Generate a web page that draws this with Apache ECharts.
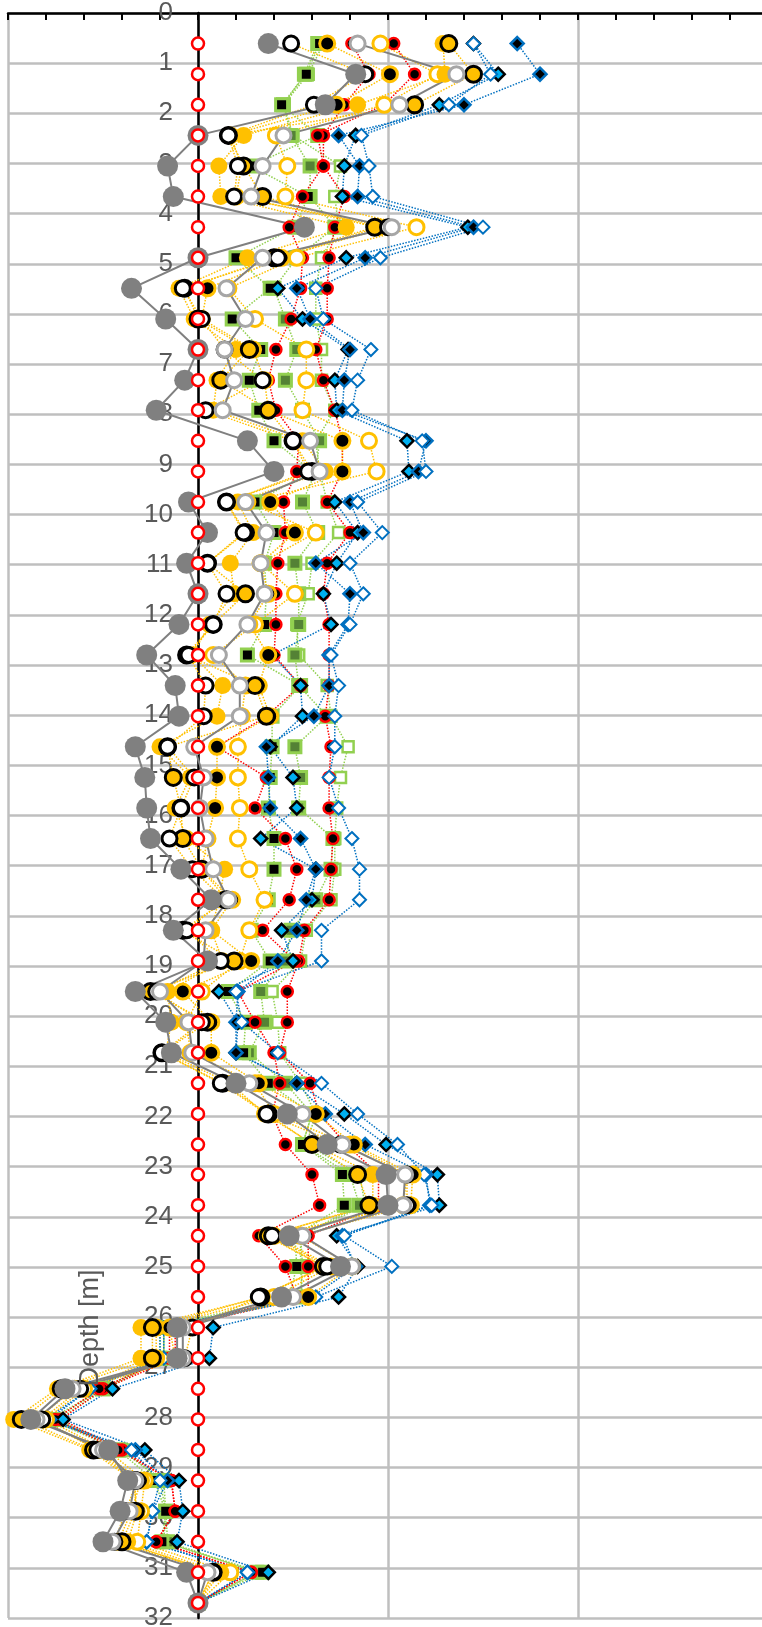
<!DOCTYPE html>
<html><head><meta charset="utf-8">
<script src="https://cdn.jsdelivr.net/npm/echarts@6/dist/echarts.min.js"></script>
<style>html,body{margin:0;padding:0;background:#fff}#c{width:762px;height:1627px}</style>
</head><body><div id="c"></div>
<script>
// Depth of each measurement row [m]
var depths = [0.61,1.22,1.83,2.44,3.05,3.66,4.27,4.88,5.49,6.10,6.71,7.32,7.92,8.53,9.14,9.75,10.36,10.97,11.58,12.19,12.80,13.41,14.02,14.63,15.24,15.85,16.46,17.07,17.68,18.29,18.90,19.51,20.12,20.73,21.34,21.95,22.56,23.16,23.77,24.38,24.99,25.60,26.21,26.82,27.43,28.04,28.65,29.26,29.87,30.48,31.09,31.70];
var yTicks = [0,1,2,3,4,5,6,7,8,9,10,11,12,13,14,15,16,17,18,19,20,21,22,23,24,25,26,27,28,29,30,31,32];

var zeroRef = [0,0,0,0,0,0,0,0,0,0,0,0,0,0,0,0,0,0,0,0,0,0,0,0,0,0,0,0,0,0,0,0,0,0,0,0,0,0,0,0,0,0,0,0,0,0,0,0,0,0,0,0];
var grayFilled = [0.37,0.83,0.67,0,-0.16,-0.13,0.56,0,-0.35,-0.17,0,-0.07,-0.22,0.26,0.40,-0.05,0.05,-0.06,0,-0.10,-0.27,-0.12,-0.10,-0.33,-0.28,-0.27,-0.25,-0.09,0.07,-0.13,0.05,-0.33,-0.17,-0.14,0.20,0.47,0.68,0.99,1.00,0.48,0.75,0.44,-0.11,-0.11,-0.70,-0.88,-0.47,-0.37,-0.41,-0.50,-0.06,0];
var grayHollow = [0.84,1.36,1.06,0.45,0.34,0.28,1.02,0.34,0.15,0.25,0.14,0.19,0.13,0.59,0.64,0.25,0.36,0.33,0.35,0.26,0.11,0.22,0.22,-0.02,0.03,0.01,0.04,0.08,0.16,0.04,0.03,-0.20,-0.05,-0.03,0.27,0.55,0.76,1.09,1.08,0.55,0.81,0.50,-0.08,-0.08,-0.66,-0.85,-0.50,-0.33,-0.36,-0.45,0.05,0];
var blackHollow = [0.49,0.88,0.61,0.16,0.21,0.19,1.00,0.42,-0.08,0.02,0.14,0.34,0.04,0.50,0.58,0.15,0.24,0.05,0.15,0.08,-0.05,0.04,0.03,-0.16,-0.02,-0.09,-0.15,-0.03,0.14,-0.06,0.12,-0.22,0.02,-0.19,0.12,0.36,0.75,1.10,1.10,0.39,0.68,0.32,-0.03,-0.07,-0.62,-0.82,-0.53,-0.32,-0.38,-0.44,0.08,0];
var goldBlack = [1.32,1.45,1.14,0.16,0.24,0.34,0.93,0.40,-0.07,0.00,0.27,0.12,0.37,0.50,0.60,0.15,0.25,0.05,0.25,0.08,-0.06,0.30,0.36,-0.16,-0.13,-0.09,-0.08,0.02,0.15,-0.08,0.19,-0.25,0.05,-0.19,0.13,0.37,0.60,0.84,0.90,0.37,0.66,0.33,-0.24,-0.24,-0.72,-0.93,-0.55,-0.33,-0.33,-0.40,0.08,0];
var yellowFilled = [1.29,1.30,0.84,0.24,0.11,0.12,0.78,0.26,-0.10,-0.02,0.20,0.10,0.08,0.55,0.67,0.21,0.29,0.17,0.19,0.06,-0.03,0.13,0.10,-0.20,-0.04,-0.12,-0.06,0.14,0.11,0.07,0.13,-0.16,-0.14,-0.17,0.17,0.35,0.61,0.92,0.92,0.36,0.66,0.34,-0.30,-0.30,-0.74,-0.97,-0.57,-0.34,-0.32,-0.37,0.12,0];
var yellowHollow = [0.96,1.26,0.98,0.41,0.47,0.46,1.15,0.52,0.16,0.30,0.57,0.57,0.55,0.90,0.94,0.26,0.62,0.33,0.51,0.30,0.08,0.25,0.23,0.21,0.21,0.22,0.21,0.27,0.35,0.27,0.22,0.02,-0.06,-0.04,0.30,0.40,0.80,1.10,1.08,0.40,0.70,0.40,-0.22,-0.22,-0.60,-0.80,-0.48,-0.28,-0.30,-0.32,0.17,0];
var blackYellow = [0.68,1.01,0.73,0.17,0.23,0.20,0.95,0.44,0.05,0.02,0.29,0.35,0.37,0.76,0.76,0.38,0.51,0.33,0.37,0.27,0.37,0.32,0.38,0.10,0.10,0.09,0.05,0.02,0.18,0.07,0.28,-0.08,0.07,0.07,0.32,0.62,0.82,1.13,1.12,0.54,0.81,0.58,-0.15,-0.12,-0.65,-0.85,-0.52,-0.30,-0.35,-0.42,0.10,0];
var redA = [1.03,1.14,0.98,0.63,0.66,0.55,0.48,0.55,0.54,0.49,0.41,0.37,0.41,0.53,0.52,0.45,0.46,0.42,0.41,0.41,0.40,0.54,0.36,0.10,0.36,0.30,0.46,0.52,0.48,0.34,0.51,0.21,0.30,0.40,0.43,0.39,0.46,0.60,0.64,0.32,0.46,0.52,-0.15,-0.15,-0.52,-0.75,-0.42,-0.14,-0.12,-0.22,0.28,0];
var redB = [0.81,0.90,0.77,0.66,0.66,0.77,0.72,0.69,0.68,0.68,0.62,0.66,0.72,0.76,0.76,0.68,0.80,0.68,0.66,0.69,0.69,0.69,0.67,0.70,0.69,0.69,0.71,0.70,0.69,0.56,0.53,0.47,0.47,0.43,0.59,0.64,0.78,0.95,0.95,0.58,0.58,0.58,-0.12,-0.12,-0.50,-0.72,-0.40,-0.14,-0.12,-0.22,0.28,0];
var greenBlack = [0.64,0.57,0.44,0.63,0.28,0.58,0.51,0.20,0.38,0.18,0.33,0.27,0.32,0.40,0.60,0.30,0.40,0.35,0.36,0.35,0.26,0.54,0.39,0.39,0.38,0.37,0.40,0.40,0.37,0.28,0.38,0.16,0.25,0.24,0.37,0.60,0.55,0.76,0.77,0.51,0.52,0.48,-0.20,-0.20,-0.50,-0.78,-0.42,-0.23,-0.17,-0.19,0.34,0];
var greenDark = [0.63,0.56,0.45,0.49,0.59,0.59,0.72,0.52,0.40,0.46,0.52,0.46,0.55,0.64,0.62,0.55,0.63,0.51,0.53,0.53,0.51,0.53,0.68,0.51,0.54,0.53,0.71,0.70,0.62,0.49,0.46,0.33,0.35,0.27,0.46,0.60,0.55,0.80,0.85,0.54,0.55,0.54,-0.18,-0.18,-0.50,-0.76,-0.41,-0.18,-0.17,-0.16,0.31,0];
var greenHollow = [0.66,0.58,0.45,0.50,0.75,0.72,0.74,0.65,0.62,0.62,0.65,0.65,0.72,0.62,0.64,0.68,0.74,0.60,0.58,0.52,0.53,0.68,0.70,0.79,0.75,0.73,0.72,0.72,0.70,0.57,0.54,0.39,0.42,0.43,0.54,0.62,0.57,0.85,0.88,0.54,0.54,0.55,-0.18,-0.18,-0.48,-0.74,-0.39,-0.20,-0.17,-0.18,0.31,0];
var blueHollow = [1.45,1.54,1.32,0.86,0.90,0.92,1.50,0.96,0.62,0.66,0.91,0.84,0.81,1.18,1.20,0.84,0.97,0.80,0.87,0.80,0.70,0.74,0.72,0.72,0.69,0.74,0.81,0.85,0.85,0.65,0.65,0.20,0.23,0.42,0.65,0.84,1.05,1.19,1.23,0.77,1.02,0.62,-0.18,-0.18,-0.57,-0.80,-0.35,-0.20,-0.24,-0.27,0.26,0];
var blueInBlack = [1.45,1.58,1.27,0.83,0.77,0.76,1.42,0.78,0.42,0.55,0.79,0.72,0.73,1.10,1.11,0.72,0.84,0.73,0.66,0.70,0.39,0.54,0.55,0.38,0.50,0.52,0.33,0.62,0.60,0.44,0.50,0.11,0.21,0.20,0.52,0.77,0.99,1.26,1.27,0.73,0.84,0.74,0.08,0.06,-0.45,-0.71,-0.28,-0.10,-0.08,-0.11,0.37,0];
var blackInBlue = [1.68,1.80,1.40,0.74,0.85,0.84,1.45,0.88,0.52,0.59,0.80,0.77,0.76,1.20,1.16,0.80,0.87,0.62,0.80,0.79,0.69,0.69,0.61,0.36,0.37,0.38,0.54,0.62,0.57,0.52,0.42,0.21,0.20,0.20,0.52,0.67,0.88,1.20,1.22,0.76,0.83,0.60,-0.20,-0.20,-0.57,-0.78,-0.33,-0.16,-0.24,-0.27,0.26,0];

function pts(arr){ return arr.map(function(v,i){ return [v, depths[i]]; }); }
function mk(name, arr, symbol, size, fill, border, bw, lineColor, lineType, lineWidth){
  return {
    name: name, type: 'line', data: pts(arr), symbol: symbol, symbolSize: size,
    showSymbol: true, animation: false, silent: true,
    itemStyle: { color: fill, borderColor: border, borderWidth: bw, opacity: 1 },
    lineStyle: { color: lineColor, type: lineType, width: lineWidth, opacity: lineWidth > 0 ? 1 : 0 },
    emphasis: { disabled: true }
  };
}
var YEL = '#ffc000', GRN = '#92d050', BLU = '#0070c0', RED = '#ff0000';
var series = [
  mk('greenHollow', greenHollow, 'rect', 11, '#ffffff', GRN, 2.5, GRN, 'dotted', 1.5),
  mk('greenDark', greenDark, 'rect', 12, '#548235', GRN, 3, GRN, 'dotted', 1.5),
  mk('greenBlack', greenBlack, 'rect', 12, '#000000', GRN, 3, GRN, 'dotted', 1.5),
  mk('redB', redB, 'circle', 11, '#000000', RED, 2.5, RED, 'dotted', 1.5),
  mk('redA', redA, 'circle', 11, '#000000', RED, 2.5, RED, 'dotted', 1.5),
  mk('blueInBlack', blueInBlack, 'diamond', 13, '#00b0f0', '#000000', 2.5, BLU, 'dotted', 1.5),
  mk('blackInBlue', blackInBlue, 'diamond', 13, '#000000', BLU, 2.5, BLU, 'dotted', 1.5),
  mk('blueHollow', blueHollow, 'diamond', 13, '#ffffff', BLU, 2, BLU, 'dotted', 1.5),
  mk('yellowHollow', yellowHollow, 'circle', 15, '#ffffff', YEL, 3, YEL, 'dotted', 1.5),
  mk('blackYellow', blackYellow, 'circle', 15, '#000000', YEL, 3, YEL, 'dotted', 1.5),
  mk('yellowFilled', yellowFilled, 'circle', 17, YEL, YEL, 0, YEL, 'dotted', 1.5),
  mk('goldBlack', goldBlack, 'circle', 16, YEL, '#000000', 3, YEL, 'dotted', 1.5),
  mk('blackHollow', blackHollow, 'circle', 15, '#ffffff', '#000000', 3, YEL, 'dotted', 1.5),
  mk('grayHollow', grayHollow, 'circle', 15, '#ffffff', '#a6a6a6', 3, '#808080', 'solid', 2),
  mk('grayFilled', grayFilled, 'circle', 21, '#808080', '#808080', 0, '#808080', 'solid', 2),
  mk('zeroRef', zeroRef, 'circle', 12, '#ffffff', RED, 2.5, RED, 'solid', 0)
];

var chart = echarts.init(document.getElementById('c'), null, {renderer: 'canvas'});
chart.setOption({
  backgroundColor: '#ffffff',
  animation: false,
  grid: { left: 8, top: 13, width: 760, height: 1605, containLabel: false, outerBoundsMode: 'none' },
  xAxis: {
    type: 'value', position: 'top', min: -1, max: 3, interval: 1,
    axisLine: { show: true, onZero: false, lineStyle: { color: '#000000', width: 2.5 } },
    axisTick: { show: true, inside: true, length: 7, lineStyle: { color: '#000000', width: 2 } },
    minorTick: { show: true, splitNumber: 5, length: 7, lineStyle: { color: '#000000', width: 2 } },
    axisLabel: { show: false },
    splitLine: { show: true, lineStyle: { color: '#bfbfbf', width: 2.5 } }
  },
  yAxis: {
    type: 'value', inverse: true, min: yTicks[0], max: yTicks[yTicks.length-1], interval: 1,
    position: 'left', offset: -190,
    axisLine: { show: true, onZero: false, lineStyle: { color: '#000000', width: 2.5 } },
    axisTick: { show: false },
    axisLabel: { show: true, margin: 25, color: '#595959', fontSize: 26, fontFamily: 'Liberation Sans' },
    splitLine: { show: true, lineStyle: { color: '#bfbfbf', width: 2.5 } }
  },
  graphic: [{
    type: 'text', x: 91, y: 1328, rotation: Math.PI / 2, z: 100,
    style: { text: 'Depth [m]', fill: '#595959', font: '27px "Liberation Sans"', textAlign: 'center', textVerticalAlign: 'middle' }
  }],
  series: series
});
</script></body></html>
